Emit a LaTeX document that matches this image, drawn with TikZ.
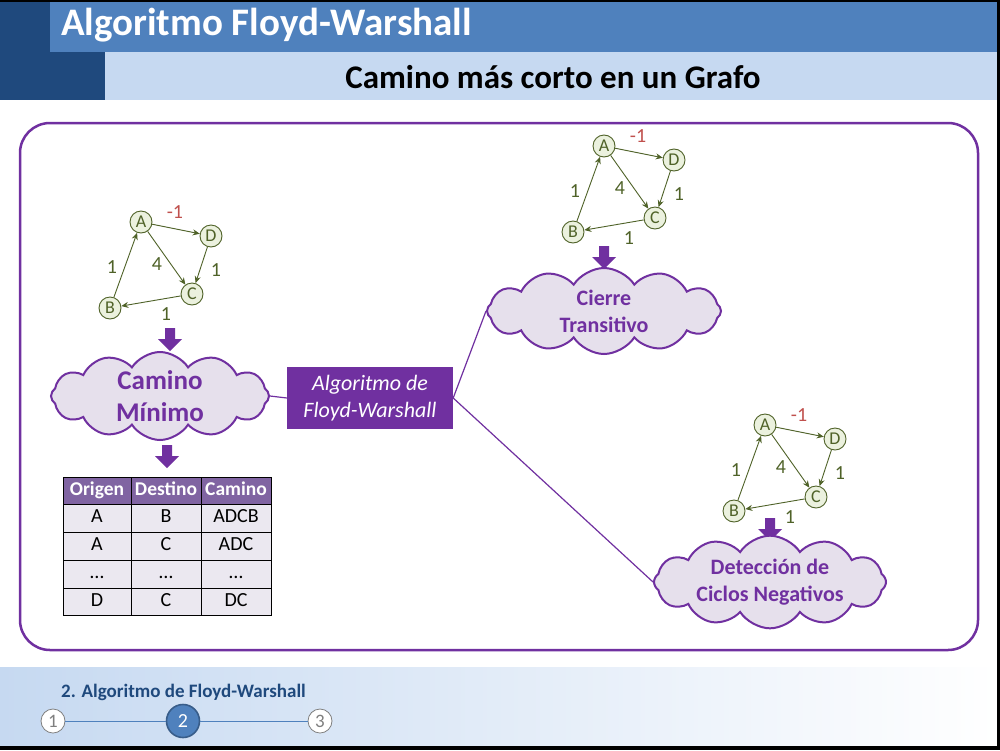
\documentclass[tikz,border=0pt]{standalone}
\usepackage{fontspec}
\setmainfont{Carlito}
\usetikzlibrary{shapes.symbols,arrows.meta}
\definecolor{hdrdark}{HTML}{1F497D}
\definecolor{hdrmid}{HTML}{4F81BD}
\definecolor{hdrlight}{HTML}{C6D9F1}
\definecolor{purp}{HTML}{7030A0}
\definecolor{lav}{HTML}{E6E0EC}
\definecolor{tblhead}{HTML}{8064A2}
\definecolor{tblrow}{HTML}{EBE8F0}
\definecolor{gfill}{HTML}{EBF1DE}
\definecolor{gline}{HTML}{4F6228}
\definecolor{negred}{HTML}{C0504D}
\definecolor{stepgrey}{HTML}{7F7F7F}
\definecolor{stepborder}{HTML}{385D8A}
\begin{document}
\begin{tikzpicture}[x=1pt,y=-1pt,
  gnode/.style={circle,draw=gline,fill=gfill,line width=0.9pt,minimum size=22pt,inner sep=0pt,
    text=gline,font=\fontsize{18}{18}\selectfont},
  gedge/.style={draw=gline,line width=0.9pt,-{Stealth[length=7pt,width=6pt]}},
  glabel/.style={text=gline,font=\fontsize{20}{20}\selectfont,inner sep=0pt},
  neglabel/.style={text=negred,font=\fontsize{20}{20}\selectfont,inner sep=0pt},
  cloudbox/.style={cloud,cloud puffs=12,cloud puff arc=115,cloud ignores aspect,draw=purp,fill=lav,
    line width=2pt,text=purp,align=center,inner sep=0pt},
  purpline/.style={draw=purp,line width=1.2pt},
  blockarrow/.style={fill=purp},
  cell/.style={font=\fontsize{20}{20}\selectfont,inner sep=0pt,text height=13pt,text depth=4pt},
  headcell/.style={font=\bfseries\fontsize{19.5}{20}\selectfont,text=white,inner sep=0pt,text height=13pt,text depth=4pt},
  stepsmall/.style={circle,draw=stepgrey,fill=white,line width=0.8pt,minimum size=24pt,inner sep=0pt,
    text=stepgrey,font=\fontsize{19}{19}\selectfont},
  stepbig/.style={circle,draw=stepborder,fill=hdrmid,line width=1.6pt,minimum size=33pt,inner sep=0pt,
    text=white,font=\fontsize{20}{20}\selectfont}
]
\useasboundingbox (0,0) rectangle (1000,750);
\fill[white] (0,0) rectangle (1000,750);
% header
\fill[hdrmid] (50,0) rectangle (1000,52);
\fill[hdrlight] (105,52) rectangle (1000,100);
\fill[hdrdark] (0,0) rectangle (50,100);
\fill[hdrdark] (50,52) rectangle (105,100);
\node[anchor=west,text=white,font=\bfseries\fontsize{39}{39}\selectfont,inner sep=0pt] (title) at (61,25) {Algoritmo Floyd-Warshall};
\node[text=black,font=\bfseries\fontsize{33}{33}\selectfont,inner sep=0pt] (subtitle) at (553,77) {Camino más corto en un Grafo};
% footer
\shade[left color=hdrlight,right color=white] (0,667) rectangle (1000,745);
\node[anchor=west,text=hdrdark,font=\bfseries\fontsize{19}{19}\selectfont,inner sep=0pt] (footer) at (61,692) {2. Algoritmo de Floyd-Warshall};
\node[stepsmall] (s1) at (53,721) {1};
\node[stepbig] (s2) at (183,721) {2};
\node[stepsmall] (s3) at (320,721) {3};
\draw[hdrmid,line width=0.8pt] (s1) -- (s2) (s2) -- (s3);
% frame
\fill[black] (0,0) rectangle (1000,2);
\fill[black] (997,0) rectangle (1000,750);
\fill[black] (0,746) rectangle (1000,750);
% main rounded panel
\draw[purp,line width=2.5pt,rounded corners=30pt] (20,123) rectangle (978,650);
% graphs
\foreach \gp/\ax/\ay in {g1/141/222, g2/604/146, g3/765/425}{
  \begin{scope}[shift={(\ax,\ay)},name prefix=\gp-]
    \node[gnode] (A) at (0,0) {A};
    \node[gnode] (D) at (70,14) {D};
    \node[gnode] (C) at (51,72) {C};
    \node[gnode] (B) at (-31,86) {B};
    \draw[gedge] (B) -- (A);
    \draw[gedge] (A) -- (D);
    \draw[gedge] (A) -- (C);
    \draw[gedge] (D) -- (C);
    \draw[gedge] (C) -- (B);
    \node[neglabel] (lad) at (34,-10) {-1};
    \node[glabel] (lac) at (16,42) {4};
    \node[glabel] (lba) at (-29,45) {1};
    \node[glabel] (ldc) at (75,48) {1};
    \node[glabel] (lcb) at (25,92) {1};
  \end{scope}
}
% block arrows
\foreach \bx/\by in {170/328, 167/445, 604/246, 770/518}{
  \fill[blockarrow] (\bx-5,\by) -- (\bx+5,\by) -- (\bx+5,\by+11) -- (\bx+12,\by+11) -- (\bx,\by+23)
     -- (\bx-12,\by+11) -- (\bx-5,\by+11) -- cycle;
}
% clouds
\node[cloudbox,minimum width=218pt,minimum height=88pt,font=\bfseries\fontsize{27}{32}\selectfont] (cm) at (160,396) {Camino\\Mínimo};
\node[cloudbox,minimum width=234pt,minimum height=86pt,font=\bfseries\fontsize{22}{27}\selectfont] (ct) at (604,311) {Cierre\\Transitivo};
\node[cloudbox,minimum width=232pt,minimum height=84pt,font=\bfseries\fontsize{22}{27}\selectfont] (cd) at (770,582) {Detección de\\Ciclos Negativos};
% central box
\node[fill=purp,text=white,minimum width=166pt,minimum height=62pt,inner sep=0pt,align=center,
  font=\itshape\fontsize{22}{27}\selectfont] (fw) at (370,398) {Algoritmo de\\Floyd-Warshall};
\draw[purpline] (cm.east) -- (fw.west);
\draw[purpline] (fw.east) -- (ct.west);
\draw[purpline] (fw.east) -- (cd.west);
% table
\fill[tblhead] (63,477) rectangle (271,504);
\fill[tblrow] (63,504) rectangle (271,615);
\draw[black,line width=1pt] (63,477) rectangle (271,615);
\foreach \yy in {504,532,560,588}{\draw[black,line width=1pt] (63,\yy) -- (271,\yy);}
\foreach \xx in {131,201}{\draw[black,line width=1pt] (\xx,477) -- (\xx,615);}
\node[headcell] (h1) at (97,490.5) {Origen};
\node[headcell] (h2) at (166,490.5) {Destino};
\node[headcell] (h3) at (236,490.5) {Camino};
\node[cell] (r1a) at (97,518) {A};
\node[cell] (r1b) at (166,518) {B};
\node[cell] (r1c) at (236,518) {ADCB};
\node[cell] (r2a) at (97,546) {A};
\node[cell] (r2b) at (166,546) {C};
\node[cell] (r2c) at (236,546) {ADC};
\node[cell] (r3a) at (97,574) {…};
\node[cell] (r3b) at (166,574) {…};
\node[cell] (r3c) at (236,574) {…};
\node[cell] (r4a) at (97,601.5) {D};
\node[cell] (r4b) at (166,601.5) {C};
\node[cell] (r4c) at (236,601.5) {DC};
\end{tikzpicture}
\end{document}
